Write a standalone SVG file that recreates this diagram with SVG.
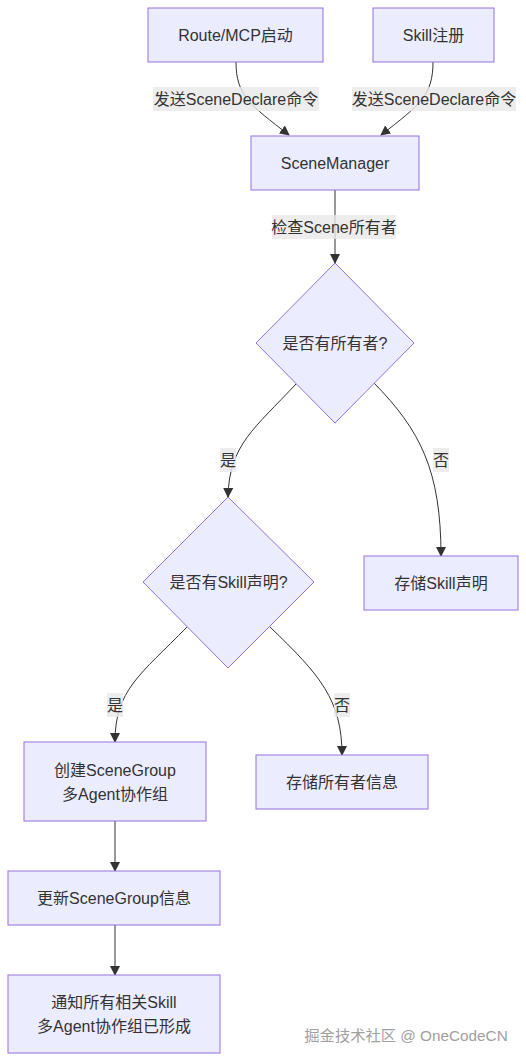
<svg xmlns="http://www.w3.org/2000/svg" width="526" height="1061" viewBox="0 0 526 1061">
<style>
.node rect,.node polygon{fill:#ECECFF;stroke:#9370DB;stroke-width:1px}
text{font-family:"Liberation Sans","Noto Sans CJK SC",sans-serif;font-size:16px;fill:#333;text-anchor:middle;dominant-baseline:central}
.edge{fill:none;stroke:#333;stroke-width:1px}
.lbl rect{fill:#e8e8e8;opacity:0.8}
.wm{font-size:15.3px;fill:#a0a0a0}
</style>
<defs>
<marker id="arr" viewBox="0 0 10 10" refX="9" refY="5" markerWidth="10" markerHeight="10" markerUnits="userSpaceOnUse" orient="auto">
<path d="M0,0 L10,5 L0,10 z" fill="#333"/>
</marker>
</defs>
<rect width="526" height="1061" fill="#fff"/>
<g id="edges">
<path class="edge" d="M236,62 C236,95 250,105 289,135" marker-end="url(#arr)"/>
<path class="edge" d="M433,62 C433,95 420,105 381,135" marker-end="url(#arr)"/>
<path class="edge" d="M335,190 L335,263" marker-end="url(#arr)"/>
<path class="edge" d="M296,384 C255,428 229,445 228,497" marker-end="url(#arr)"/>
<path class="edge" d="M374,383 C420,430 441,470 441,556" marker-end="url(#arr)"/>
<path class="edge" d="M187,627 C140,675 115,690 115,742" marker-end="url(#arr)"/>
<path class="edge" d="M270,627 C320,675 342,700 342,755" marker-end="url(#arr)"/>
<path class="edge" d="M115,821 L115,871" marker-end="url(#arr)"/>
<path class="edge" d="M115,925 L115,975" marker-end="url(#arr)"/>
<g class="lbl">
<rect x="153" y="87" width="166" height="24"/><text x="236" y="99">发送SceneDeclare命令</text>
<rect x="352" y="87" width="164" height="24"/><text x="434" y="99">发送SceneDeclare命令</text>
<rect x="272" y="215" width="124" height="24"/><text x="334" y="227">检查Scene所有者</text>
<rect x="220" y="448" width="16" height="24"/><text x="228" y="460">是</text>
<rect x="433" y="448" width="16" height="24"/><text x="441" y="460">否</text>
<rect x="107" y="693" width="16" height="24"/><text x="115" y="705">是</text>
<rect x="334" y="693" width="16" height="24"/><text x="342" y="705">否</text>
</g>
</g>
<g id="nodeA" class="node"><rect x="148" y="8" width="175" height="54"/><text x="235.5" y="35">Route/MCP启动</text></g>
<g id="nodeB" class="node"><rect x="373" y="8" width="121" height="54"/><text x="433.5" y="35">Skill注册</text></g>
<g id="nodeSM" class="node"><rect x="251" y="136" width="168" height="54"/><text x="335" y="163">SceneManager</text></g>
<g id="nodeD1" class="node"><polygon points="335,263 414,343 335,423 256,343"/><text x="335" y="343">是否有所有者?</text></g>
<g id="nodeD2" class="node"><polygon points="228,497 314,582 228,668 143,582"/><text x="228.5" y="582">是否有Skill声明?</text></g>
<g id="nodeStoreSkill" class="node"><rect x="364" y="556" width="154" height="54"/><text x="441" y="583">存储Skill声明</text></g>
<g id="nodeCreate" class="node"><rect x="24" y="742" width="182" height="79"/><text x="115" y="770">创建SceneGroup</text><text x="115" y="794">多Agent协作组</text></g>
<g id="nodeStoreOwner" class="node"><rect x="256" y="755" width="172" height="54"/><text x="342" y="782">存储所有者信息</text></g>
<g id="nodeUpdate" class="node"><rect x="8" y="871" width="212" height="54"/><text x="114" y="898">更新SceneGroup信息</text></g>
<g id="nodeNotify" class="node"><rect x="8" y="975" width="212" height="78"/><text x="114" y="1002">通知所有相关Skill</text><text x="114" y="1026">多Agent协作组已形成</text></g>
<text class="wm" x="406" y="1035">掘金技术社区 @ OneCodeCN</text>
</svg>
